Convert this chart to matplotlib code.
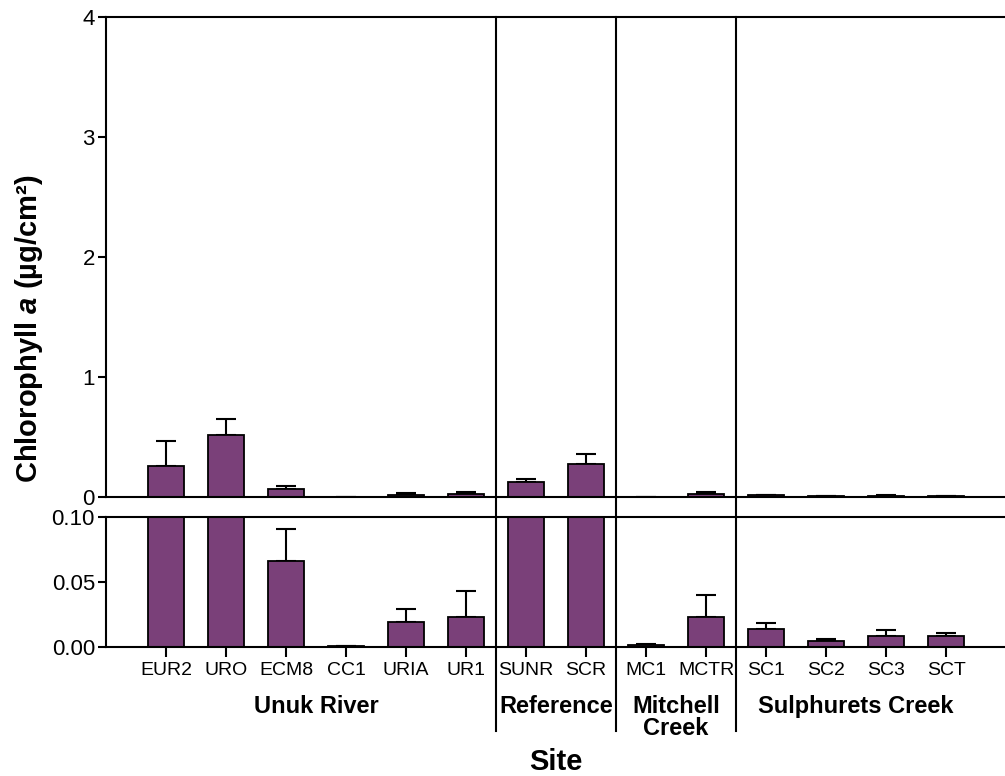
import matplotlib
matplotlib.use("Agg")
import matplotlib.pyplot as plt
from matplotlib.lines import Line2D
from matplotlib.transforms import blended_transform_factory

plt.rcParams['font.family'] = ['Liberation Sans', 'DejaVu Sans']
plt.rcParams['mathtext.fontset'] = 'custom'
plt.rcParams['mathtext.it'] = 'Liberation Sans:italic:bold'

sites = ['EUR2', 'URO', 'ECM8', 'CC1', 'URIA', 'UR1', 'SUNR', 'SCR',
         'MC1', 'MCTR', 'SC1', 'SC2', 'SC3', 'SCT']
chl = [0.258, 0.514, 0.066, 0.0005, 0.0192, 0.0233, 0.128, 0.272,
       0.0015, 0.0233, 0.0138, 0.0046, 0.0087, 0.0087]
chl_err = [0.209, 0.136, 0.025, 0.0003, 0.0103, 0.020, 0.025, 0.089,
           0.001, 0.017, 0.0047, 0.0018, 0.0043, 0.0023]
groups = ['Unuk River', 'Reference', 'Mitchell\nCreek', 'Sulphurets Creek']
group_sizes = [6, 2, 2, 4]

bar_color = '#7A4079'
lw = 1.5
W, H = 1005, 776

fig = plt.figure(figsize=(W / 100, H / 100), dpi=100)
ax1 = fig.add_axes([106 / W, 1 - 497 / H, 1 - 106 / W, (497 - 17) / H])
ax2 = fig.add_axes([106 / W, 1 - 647 / H, 1 - 106 / W, (647 - 517) / H], sharex=ax1)

x = list(range(len(sites)))
lower = [0] * len(sites)
for ax in (ax1, ax2):
    ax.bar(x, chl, width=0.6, color=bar_color, edgecolor='black', linewidth=1.3, zorder=2)
    ax.errorbar(x, chl, yerr=[lower, chl_err], fmt='none', ecolor='black',
                elinewidth=1.5, capsize=7, capthick=1.5, zorder=1)
    ax.spines['right'].set_visible(False)
    for s in ('left', 'top', 'bottom'):
        ax.spines[s].set_linewidth(lw)
    ax.tick_params(axis='y', length=6, width=lw, labelsize=16, pad=2)

ax1.set_xlim(-1, 13.98)
ax1.set_ylim(0, 4)
ax1.set_yticks([0, 1, 2, 3, 4])
ax1.tick_params(axis='x', bottom=False, labelbottom=False)

ax2.set_ylim(0, 0.1)
ax2.set_yticks([0, 0.05, 0.10])
ax2.set_yticklabels(['0.00', '0.05', '0.10'])
ax2.set_xticks(x)
ax2.set_xticklabels(sites, fontsize=14)
ax2.tick_params(axis='x', length=7, width=lw, pad=4)

# group labels centred under their sites, dividers between groups
trans = blended_transform_factory(ax2.transData, fig.transFigure)
start = 0
for i, (name, n) in enumerate(zip(groups, group_sizes)):
    center = start + (n - 1) / 2
    fig.text(center, 1 - 695 / H, name, transform=trans, ha='center', va='top',
             fontsize=17, fontweight='bold', linespacing=0.95)
    end = start + n
    if i < len(groups) - 1:
        fig.add_artist(Line2D([end - 0.5, end - 0.5], [1 - 17 / H, 1 - 731 / H],
                              transform=trans, color='black', linewidth=lw))
    start = end

fig.text(0.5 * (106 + W) / W, 1 - 770 / H, 'Site', ha='center', va='baseline',
         fontsize=21, fontweight='bold')
fig.text(29 / W, 1 - 329 / H, 'Chlorophyll $a$ (µg/cm²)', rotation=90,
         ha='center', va='center', fontsize=21, fontweight='bold')

fig.savefig('out.png', dpi=100)
